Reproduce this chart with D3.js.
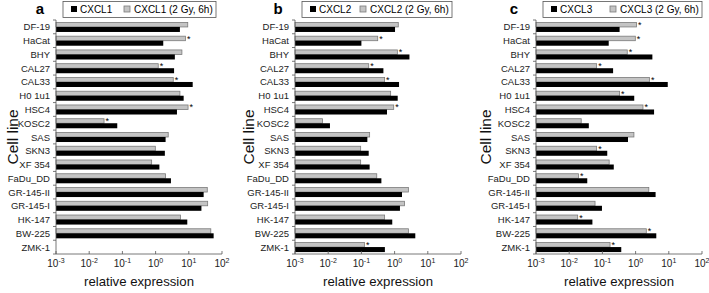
<!DOCTYPE html>
<html><head>
<meta charset="utf-8">
<script src="https://d3js.org/d3.v7.min.js"></script>
<style>
  body { margin: 0; background: #fff; }
  text { font-family: "Liberation Sans", Arial, sans-serif; }
</style>
</head>
<body>
<svg id="chart" width="709" height="293"></svg>
<script>
// cell lines, top to bottom
const cellLines = ["DF-19","HaCat","BHY","CAL27","CAL33","H0 1u1","HSC4","KOSC2","SAS","SKN3","XF 354","FaDu_DD","GR-145-II","GR-145-I","HK-147","BW-225","ZMK-1"];

// panel a - CXCL1
const cxcl1Base = [5.4,1.7,3.8,3.6,13.1,7.0,4.4,0.070,2.0,1.9,1.3,2.9,28,24,9.0,56,null];
const cxcl1Irr  = [9.3,7.9,6.2,1.2,3.4,5.4,9.5,0.028,2.4,0.98,0.76,2.0,36,37,5.6,46,null];
const cxcl1Sig  = ["HaCat","CAL27","CAL33","HSC4","KOSC2"];

// panel b - CXCL2
const cxcl2Base = [1.03,0.10,2.8,0.46,1.36,1.24,0.59,0.0113,0.151,0.166,0.177,0.40,1.67,1.45,0.85,4.2,0.51];
const cxcl2Irr  = [1.29,0.31,1.21,0.166,0.50,0.76,0.94,0.0067,0.177,0.095,0.095,0.29,2.6,2.0,0.50,2.6,0.123];
const cxcl2Sig  = ["HaCat","BHY","CAL27","CAL33","HSC4","ZMK-1"];

// panel c - CXCL3
const cxcl3Base = [0.33,0.155,3.2,0.21,9.3,0.91,3.6,0.039,0.59,0.14,0.22,0.035,4.0,0.097,0.050,4.2,0.37];
const cxcl3Irr  = [1.07,0.98,0.56,0.067,2.6,0.33,1.67,0.023,0.89,0.067,0.16,0.019,2.5,0.060,0.018,2.1,0.17];
const cxcl3Sig  = ["DF-19","HaCat","BHY","CAL27","CAL33","H0 1u1","HSC4","SKN3","FaDu_DD","HK-147","BW-225","ZMK-1"];

const tickExps = [-3,-2,-1,0,1,2];

const panels = [
  {letter:"a", gene:"CXCL1", base:cxcl1Base, irr:cxcl1Irr, sig:cxcl1Sig, x0:56,  ylab:13,  lx:40,  legend:[63,216]},
  {letter:"b", gene:"CXCL2", base:cxcl2Base, irr:cxcl2Irr, sig:cxcl2Sig, x0:295, ylab:249, lx:278, legend:[302,452]},
  {letter:"c", gene:"CXCL3", base:cxcl3Base, irr:cxcl3Irr, sig:cxcl3Sig, x0:536, ylab:486, lx:514, legend:[543,702]}
];

const svg = d3.select("#chart");
const yTop = 20, yBottom = 254, panelW = 166;
const greyFill = "#c4c4c4", greyStroke = "#7a7a7a";

const y = d3.scaleBand().domain(cellLines).range([yTop, yBottom]).paddingInner(0.27).paddingOuter(0.14);
const ySub = d3.scaleBand().domain(["irr","base"]).range([0, y.bandwidth()]);

panels.forEach(p => {
  const x = d3.scaleLog().domain([1e-3, 1e2]).range([p.x0, p.x0 + panelW]);
  const g = svg.append("g");

  // bars
  const rows = cellLines.map((c, i) => ({c: c, base: p.base[i], irr: p.irr[i]}));
  rows.forEach(r => {
    if (r.irr != null) {
      g.append("rect")
        .attr("x", x(1e-3)).attr("y", y(r.c) + ySub("irr") + 0.5)
        .attr("width", x(r.irr) - x(1e-3)).attr("height", ySub.bandwidth() - 0.5)
        .attr("fill", greyFill).attr("stroke", greyStroke).attr("stroke-width", 0.8);
      if (p.sig.includes(r.c)) {
        g.append("text").attr("x", x(r.irr) + 1.5).attr("y", y(r.c) + ySub("irr") + 6)
          .attr("font-size", 9).text("*");
      }
    }
    if (r.base != null) {
      g.append("rect")
        .attr("x", x(1e-3)).attr("y", y(r.c) + ySub("base"))
        .attr("width", x(r.base) - x(1e-3)).attr("height", ySub.bandwidth())
        .attr("fill", "#000");
    }
  });

  // y axis: line + ticks between groups
  g.append("line").attr("x1", p.x0).attr("x2", p.x0).attr("y1", yTop).attr("y2", yBottom)
    .attr("stroke", "#555").attr("stroke-width", 0.8);
  const step = (yBottom - yTop) / cellLines.length;
  d3.range(cellLines.length + 1).forEach(i => {
    g.append("line").attr("x1", p.x0 - 3).attr("x2", p.x0)
      .attr("y1", yTop + i * step).attr("y2", yTop + i * step)
      .attr("stroke", "#555").attr("stroke-width", 0.8);
  });
  g.selectAll("text.cat").data(cellLines).join("text").attr("class", "cat")
    .attr("x", p.x0 - 6).attr("y", d => y(d) + y.bandwidth() / 2 + 3.5)
    .attr("text-anchor", "end").attr("font-size", 9.5).attr("fill", "#222").text(d => d);

  // x axis
  g.append("line").attr("x1", p.x0).attr("x2", p.x0 + panelW).attr("y1", yBottom).attr("y2", yBottom)
    .attr("stroke", "#555").attr("stroke-width", 0.8);
  tickExps.forEach(e => {
    const tx = x(Math.pow(10, e));
    g.append("line").attr("x1", tx).attr("x2", tx).attr("y1", yBottom - 3).attr("y2", yBottom)
      .attr("stroke", "#555").attr("stroke-width", 0.8);
    const t = g.append("text").attr("x", tx).attr("y", yBottom + 13)
      .attr("text-anchor", "middle").attr("font-size", 10).attr("fill", "#222");
    t.append("tspan").text("10");
    t.append("tspan").attr("dy", -4.5).attr("font-size", 7).text(e);
  });
  g.append("text").attr("x", p.x0 + panelW / 2).attr("y", 286)
    .attr("text-anchor", "middle").attr("font-size", 13.2).attr("fill", "#111").text("relative expression");

  // y label
  g.append("text").attr("transform", "translate(" + (p.ylab + 5) + "," + ((yTop + yBottom) / 2) + ") rotate(-90)")
    .attr("text-anchor", "middle").attr("font-size", 15.5).attr("fill", "#111").text("Cell line");

  // panel letter
  g.append("text").attr("x", p.lx).attr("y", 14).attr("text-anchor", "middle")
    .attr("font-size", 15).attr("font-weight", "bold").text(p.letter);

  // legend
  const lg = g.append("g");
  lg.append("rect").attr("x", p.legend[0]).attr("y", 1.5).attr("width", p.legend[1] - p.legend[0]).attr("height", 16)
    .attr("fill", "#fff").attr("stroke", "#555").attr("stroke-width", 0.8);
  lg.append("rect").attr("x", p.legend[0] + 8).attr("y", 6).attr("width", 6).attr("height", 6).attr("fill", "#000");
  lg.append("text").attr("x", p.legend[0] + 17).attr("y", 13.3).attr("font-size", 10).text(p.gene);
  const gx = p.legend[1] - 92;
  lg.append("rect").attr("x", gx).attr("y", 6).attr("width", 6).attr("height", 6)
    .attr("fill", greyFill).attr("stroke", greyStroke).attr("stroke-width", 0.8);
  lg.append("text").attr("x", gx + 10).attr("y", 13.3).attr("font-size", 10).text(p.gene + " (2 Gy, 6h)");
});
</script>
</body>
</html>
